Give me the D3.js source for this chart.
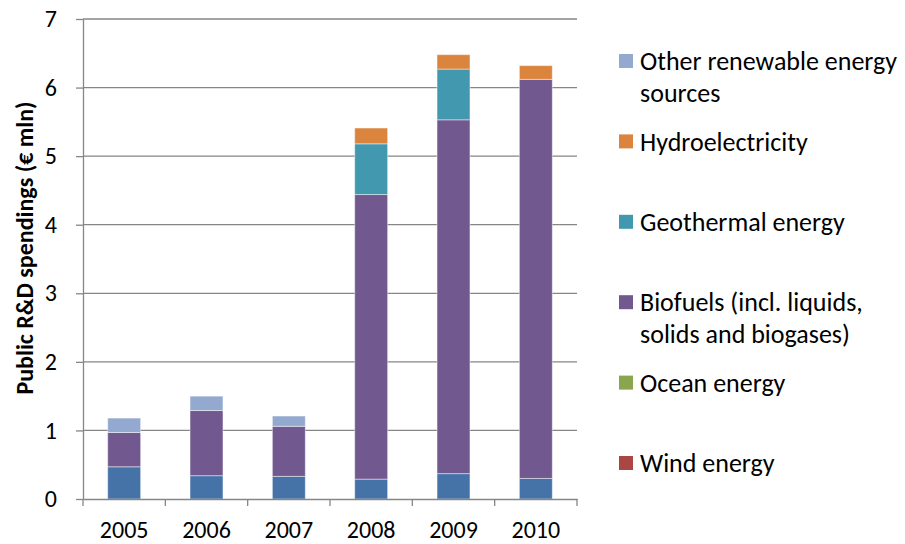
<!DOCTYPE html>
<html>
<head>
<meta charset="utf-8">
<script src="https://cdn.jsdelivr.net/npm/d3@7"></script>
<style>
    body { margin: 0; background: #fff; }
    text { font-family: Carlito, Calibri, Lato, sans-serif; fill: #000; }
</style>
</head>
<body>
<div id="chart"></div>
<script>
// data (€ mln)
var years = ["2005", "2006", "2007", "2008", "2009", "2010"];
var solar = [0.47, 0.34, 0.33, 0.29, 0.37, 0.30];
var wind = [0, 0, 0, 0, 0, 0];
var ocean = [0, 0, 0, 0, 0, 0];
var biofuels = [0.50, 0.95, 0.73, 4.15, 5.16, 5.82];
var geothermal = [0, 0, 0, 0.74, 0.74, 0];
var hydro = [0, 0, 0, 0.23, 0.21, 0.20];
var other = [0.21, 0.21, 0.15, 0, 0, 0];
var yTicks = [0, 1, 2, 3, 4, 5, 6, 7];

// stack order, bottom to top
var seriesNames = ["Solar energy", "Wind energy", "Ocean energy",
    "Biofuels (incl. liquids, solids and biogases)", "Geothermal energy",
    "Hydroelectricity", "Other renewable energy sources"];
var seriesValues = [solar, wind, ocean, biofuels, geothermal, hydro, other];
var seriesColors = ["#4572A7", "#AA4643", "#89A54E", "#71588F", "#4198AF", "#DB843D", "#93A9CF"];

// legend entries as shown, top to bottom
var legendItems = [
    {name: "Other renewable energy sources", lines: ["Other renewable energy", "sources"]},
    {name: "Hydroelectricity", lines: ["Hydroelectricity"]},
    {name: "Geothermal energy", lines: ["Geothermal energy"]},
    {name: "Biofuels (incl. liquids, solids and biogases)", lines: ["Biofuels (incl. liquids,", "solids and biogases)"]},
    {name: "Ocean energy", lines: ["Ocean energy"]},
    {name: "Wind energy", lines: ["Wind energy"]}
];

var chart_width = 905;
var chart_height = 544;
var margin = {top: 19, right: 328, bottom: 45, left: 83};
var fontFamily = "Carlito, Calibri, Lato, sans-serif";

var rows = years.map(function (y, i) {
    var row = {year: y};
    seriesNames.forEach(function (n, k) {
        row[n] = seriesValues[k][i];
    });
    return row;
});
var stacked = d3.stack().keys(seriesNames)(rows);

var color = d3.scaleOrdinal().domain(seriesNames).range(seriesColors);

var x = d3.scaleBand()
        .domain(years)
        .range([margin.left, chart_width - margin.right])
        .paddingInner(0.6)
        .paddingOuter(0.3);
var xBand = d3.scaleBand()
        .domain(years)
        .range([margin.left, chart_width - margin.right]);
var y = d3.scaleLinear()
        .domain([0, 7])
        .range([chart_height - margin.bottom, margin.top]);

var svg = d3.select("#chart")
        .append("svg")
        .attr("width", chart_width)
        .attr("height", chart_height);

//Gridlines
svg.append("g")
        .selectAll("line")
        .data(yTicks.slice(1))
        .enter()
        .append("line")
        .attr("x1", margin.left)
        .attr("x2", chart_width - margin.right)
        .attr("y1", function (d) { return y(d); })
        .attr("y2", function (d) { return y(d); })
        .attr("stroke", "#868686")
        .attr("stroke-width", 1.3);

//Bars
svg.append("g")
        .selectAll("g")
        .data(stacked)
        .enter()
        .append("g")
        .attr("fill", function (d) { return color(d.key); })
        .selectAll("rect")
        .data(function (d) { return d.filter(function (p) { return p[1] - p[0] > 0; }); })
        .enter()
        .append("rect")
        .attr("x", function (d) { return x(d.data.year); })
        .attr("width", x.bandwidth())
        .attr("y", function (d) { return y(d[1]); })
        .attr("height", function (d) { return y(d[0]) - y(d[1]); })
        .attr("stroke", "rgba(255,255,255,0.45)")
        .attr("stroke-width", 1);

//Y axis
var yAxis = svg.append("g")
        .attr("transform", "translate(" + margin.left + ",0)")
        .call(d3.axisLeft(y).tickValues(yTicks).tickFormat(d3.format("d"))
                .tickSize(7).tickPadding(19).tickSizeOuter(0));
yAxis.select(".domain").attr("stroke", "#868686").attr("stroke-width", 1.3);
yAxis.selectAll(".tick line").attr("stroke", "#868686").attr("stroke-width", 1.3);
yAxis.selectAll("text")
        .style("font-family", fontFamily)
        .style("font-size", "24px")
        .attr("fill", "#000");

//X axis
var xAxis = svg.append("g")
        .attr("transform", "translate(0," + y(0) + ")")
        .call(d3.axisBottom(xBand).tickSize(0).tickPadding(22).tickSizeOuter(0));
xAxis.select(".domain").attr("stroke", "#868686").attr("stroke-width", 1.3);
xAxis.selectAll("text")
        .style("font-family", fontFamily)
        .style("font-size", "24px")
        .attr("fill", "#000");
// tick marks between categories
var boundaries = years.map(function (d) { return xBand(d); }).concat([xBand.range()[1]]);
xAxis.selectAll("line.sep")
        .data(boundaries)
        .enter()
        .append("line")
        .attr("class", "sep")
        .attr("x1", function (d) { return d; })
        .attr("x2", function (d) { return d; })
        .attr("y1", 0)
        .attr("y2", 7)
        .attr("stroke", "#868686")
        .attr("stroke-width", 1.3);

//Y axis title
svg.append("text")
        .attr("transform", "translate(33,248) rotate(-90)")
        .attr("text-anchor", "middle")
        .style("font-weight", "bold")
        .style("font-size", "24px")
        .text("Public R&D spendings (€ mln)");

//Legend
var legend = svg.append("g")
        .attr("transform", "translate(619,61)");
legendItems.forEach(function (item, i) {
    var legendRow = legend.append("g")
            .attr("transform", "translate(0," + (i * 80.4) + ")");
    legendRow.append("rect")
            .attr("x", 0)
            .attr("y", -7)
            .attr("width", 14)
            .attr("height", 14)
            .attr("fill", color(item.name));
    item.lines.forEach(function (line, j) {
        legendRow.append("text")
                .attr("x", 21)
                .attr("y", j * 32)
                .attr("dy", "0.35em")
                .style("font-size", "26px")
                .text(line);
    });
});
</script>
</body>
</html>
